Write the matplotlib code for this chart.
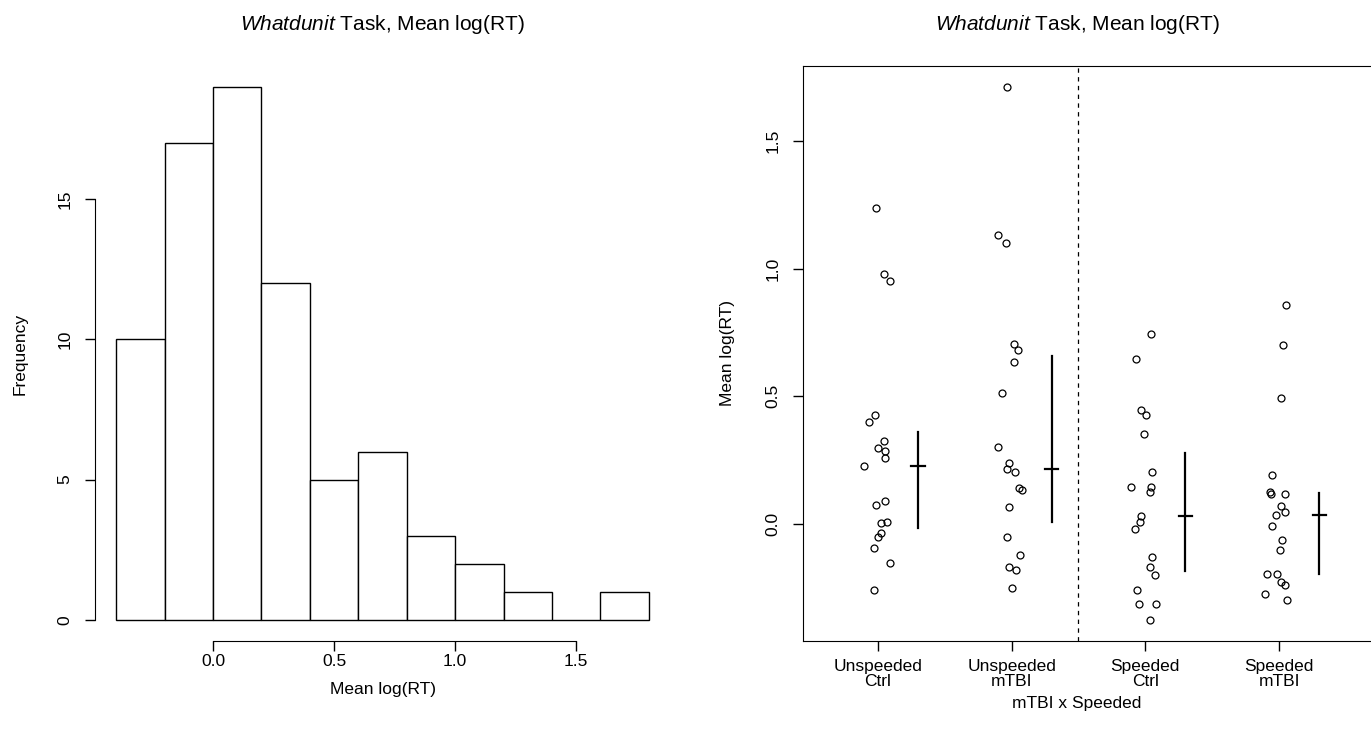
import numpy as np
import matplotlib
matplotlib.use('Agg')
import matplotlib.pyplot as plt

plt.rcParams['font.family'] = ['Liberation Sans', 'DejaVu Sans']
plt.rcParams['mathtext.fontset'] = 'custom'
plt.rcParams['mathtext.it'] = 'Liberation Sans:italic'
plt.rcParams['mathtext.rm'] = 'Liberation Sans'

# group labels
groups = ['Unspeeded\nCtrl', 'Unspeeded\nmTBI', 'Speeded\nCtrl', 'Speeded\nmTBI']

# mean log(RT) per subject
unsp_ctrl = [1.237, 0.979, 0.952, 0.425, 0.398, 0.325, 0.296, 0.286, 0.259, 0.227,
             0.089, 0.074, 0.007, 0.003, -0.034, -0.051, -0.095, -0.154, -0.258]
unsp_mtbi = [1.71, 1.13, 1.10, 0.706, 0.682, 0.636, 0.514, 0.30, 0.24, 0.214,
             0.203, 0.14, 0.134, 0.065, -0.053, -0.122, -0.167, -0.18, -0.25]
sp_ctrl = [0.743, 0.647, 0.445, 0.427, 0.353, 0.205, 0.146, 0.145, 0.126, 0.03,
           0.008, -0.02, -0.128, -0.169, -0.199, -0.259, -0.315, -0.314, -0.375]
sp_mtbi = [0.857, 0.699, 0.493, 0.19, 0.124, 0.117, 0.117, 0.072, 0.048, 0.034,
           -0.009, -0.064, -0.102, -0.195, -0.195, -0.229, -0.241, -0.276, -0.297]

# horizontal jitter of each point
jit_unsp_ctrl = [-0.017, 0.043, 0.090, -0.022, -0.067, 0.045, -0.002, 0.052, 0.055, -0.105,
                 0.055, -0.017, 0.065, 0.022, 0.020, 0.0, -0.032, 0.090, -0.030]
jit_unsp_mtbi = [-0.037, -0.105, -0.045, 0.015, 0.045, 0.015, -0.075, -0.105, -0.022, -0.037,
                 0.022, 0.052, 0.075, -0.022, -0.037, 0.060, -0.022, 0.030, 0.0]
jit_sp_ctrl = [0.045, -0.070, -0.030, 0.002, -0.010, 0.047, -0.107, 0.045, 0.032, -0.035,
               -0.043, -0.080, 0.052, 0.037, 0.075, -0.062, -0.050, 0.082, 0.032]
jit_sp_mtbi = [0.050, 0.030, 0.015, -0.055, -0.067, -0.060, 0.047, 0.015, 0.047, -0.020,
               -0.050, 0.022, 0.010, -0.087, -0.015, 0.015, 0.047, -0.105, 0.060]

data = [unsp_ctrl, unsp_mtbi, sp_ctrl, sp_mtbi]
jits = [jit_unsp_ctrl, jit_unsp_mtbi, jit_sp_ctrl, jit_sp_mtbi]
all_vals = np.concatenate(data)
bins = np.arange(-0.4, 1.81, 0.2)

title = r'$\it{Whatdunit}$ Task, Mean log(RT)'
fs = 12.5

W, H = 1371, 729
fig = plt.figure(figsize=(W / 100, H / 100), dpi=100)
bot, top = 641, 66
ax1 = fig.add_axes([95 / W, (H - bot) / H, (670 - 95) / W, (bot - top) / H])
ax2 = fig.add_axes([803 / W, (H - bot) / H, (W - 803) / W, (bot - top) / H])

# histogram
counts, _, _ = ax1.hist(all_vals, bins=bins, facecolor='white', edgecolor='black', linewidth=1)
xr = bins[-1] - bins[0]
ax1.set_xlim(bins[0] - 0.04 * xr, bins[-1] + 0.04 * xr)
ax1.set_ylim(-0.04 * counts.max(), 1.04 * counts.max())
for s in ['top', 'right']:
    ax1.spines[s].set_visible(False)
ax1.spines['bottom'].set_bounds(0, 1.5)
ax1.spines['left'].set_bounds(0, 15)
ax1.set_xticks([0, 0.5, 1.0, 1.5])
ax1.set_xticklabels(['0.0', '0.5', '1.0', '1.5'])
ax1.set_yticks([0, 5, 10, 15])
ax1.set_yticklabels(['0', '5', '10', '15'], rotation=90, va='center')
ax1.tick_params(axis='x', length=7, width=1, pad=2, labelsize=fs)
ax1.tick_params(axis='y', length=7, width=1, pad=9, labelsize=fs)
ax1.set_title(title, fontsize=15, pad=26)
ax1.set_xlabel('Mean log(RT)', fontsize=fs)
ax1.set_ylabel('Frequency', fontsize=fs)
ax1.xaxis.set_label_coords(0.5, -0.072)
ax1.yaxis.set_label_coords(-0.118, 0.5)

# strip chart with median and IQR
xs = np.arange(1, len(groups) + 1)
for x, vals, jit in zip(xs, data, jits):
    ax2.plot(x + np.array(jit), vals, 'o', mfc='none', mec='black', ms=5, mew=0.9)
    q1, med, q3 = np.percentile(vals, [25, 50, 75])
    ax2.plot([x + 0.3, x + 0.3], [q1, q3], color='black', lw=1.6)
    ax2.plot([x + 0.25, x + 0.35], [med, med], color='black', lw=1.6)
ax2.axvline(2.5, color='black', lw=0.9, dashes=(3.5, 3.5))
ax2.set_xlim(0.44, 1 + (W - 878) / 133.7)
yr = all_vals.max() - all_vals.min()
ax2.set_ylim(all_vals.min() - 0.04 * yr, all_vals.max() + 0.04 * yr)
ax2.spines['right'].set_visible(False)
ax2.set_xticks(xs)
ax2.set_xticklabels(groups, linespacing=1.0)
ax2.set_yticks([0.0, 0.5, 1.0, 1.5])
ax2.set_yticklabels(['0.0', '0.5', '1.0', '1.5'], rotation=90, va='center')
ax2.tick_params(axis='x', length=7, width=1, pad=6, labelsize=fs)
ax2.tick_params(axis='y', length=7, width=1, pad=9, labelsize=fs)
t = ax2.set_title(title, fontsize=15, pad=26)
t.set_x((1077 - 803) / (W - 803))
ax2.set_xlabel('mTBI x Speeded', fontsize=fs)
ax2.set_ylabel('Mean log(RT)', fontsize=fs)
ax2.xaxis.set_label_coords((1077 - 803) / (W - 803), -0.095)
ax2.yaxis.set_label_coords(-0.12, 0.5)

fig.savefig('out.png', dpi=100)
